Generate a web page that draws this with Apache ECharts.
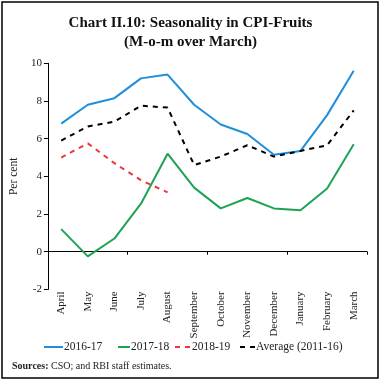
<!DOCTYPE html>
<html><head><meta charset="utf-8">
<script src="https://cdn.jsdelivr.net/npm/echarts@6/dist/echarts.min.js"></script>
<style>html,body{margin:0;padding:0;background:#fff}#c{width:381px;height:383px}</style>
</head><body><div id="c"></div><script>
const months = ['April','May','June','July','August','September','October','November','December','January','February','March'];
const s2016 = [6.8,7.8,8.15,9.2,9.4,7.8,6.75,6.25,5.15,5.35,7.25,9.6];
const s2017 = [1.2,-0.25,0.7,2.55,5.2,3.4,2.3,2.85,2.3,2.2,3.35,5.7];
const s2018 = [5.0,5.75,4.7,3.8,3.15,null,null,null,null,null,null,null];
const sAvg = [5.9,6.65,6.9,7.75,7.65,4.6,5.05,5.65,5.05,5.35,5.65,7.5];
const seriesNames = ['2016-17','2017-18','2018-19','Average (2011-16)'];
const yMin = -2, yMax = 10, yStep = 2;
const FONT = 'Liberation Serif';
const legendPos = [{left: 43, w: 19}, {left: 117, w: 12}, {left: 174, w: 16}, {left: 239, w: 15}];
const legendText = {fontFamily: FONT, fontSize: 11.5, color: '#222', padding: [0,0,0,-4]};
const chart = echarts.init(document.getElementById('c'));
chart.setOption({
  animation: false,
  textStyle: {fontFamily: FONT},
  title: [{
    text: 'Chart II.10: Seasonality in CPI-Fruits\n(M-o-m over March)',
    left: 'center', top: 9,
    textStyle: {fontFamily: FONT, fontSize: 15, fontWeight: 'bold', color: '#111', lineHeight: 19}
  }, {
    text: '{b|Sources:} CSO; and RBI staff estimates.',
    left: 7, top: 356,
    textStyle: {fontFamily: FONT, fontSize: 10, fontWeight: 'normal', color: '#222',
      rich: {b: {fontFamily: FONT, fontSize: 10, fontWeight: 'bold', color: '#222'}}}
  }],
  graphic: [{type: 'rect', shape: {x: 2, y: 2, width: 376, height: 376}, style: {fill: 'none', stroke: '#000', lineWidth: 1.5}, silent: true}],
  legend: seriesNames.map((n, i) => ({
    data: [n], left: legendPos[i].left, top: 341, padding: 0,
    itemWidth: legendPos[i].w, itemHeight: 10,
    itemStyle: {opacity: 0},
    textStyle: legendText
  })),
  grid: {left: 45, right: 14, top: 63.3, bottom: 93.6, containLabel: false},
  xAxis: [{
    type: 'category', data: months, boundaryGap: true,
    axisLine: {onZero: true, lineStyle: {color: '#000', width: 1}},
    axisTick: {show: true, length: 3, inside: false, lineStyle: {color: '#000'}},
    axisLabel: {show: false}
  }, {
    type: 'category', data: months, position: 'bottom', boundaryGap: true,
    axisLine: {show: false, onZero: false}, axisTick: {show: false},
    axisLabel: {rotate: 90, margin: 2, fontFamily: FONT, fontSize: 11, color: '#222', interval: 0}
  }],
  yAxis: {
    type: 'value', min: yMin, max: yMax, interval: yStep,
    name: 'Per cent', nameLocation: 'middle', nameGap: 19,
    nameTextStyle: {fontFamily: FONT, fontSize: 11.5, color: '#222'},
    axisLine: {show: true, lineStyle: {color: '#000', width: 1}},
    axisTick: {show: true, length: 4, lineStyle: {color: '#000'}},
    axisLabel: {fontFamily: FONT, fontSize: 11, color: '#222', margin: 6},
    splitLine: {show: false}
  },
  series: [
    {name: seriesNames[0], type: 'line', data: s2016, symbol: 'none', lineStyle: {color: '#1f8fdb', width: 2}, itemStyle: {color: '#1f8fdb'}},
    {name: seriesNames[1], type: 'line', data: s2017, symbol: 'none', lineStyle: {color: '#1ea253', width: 2}, itemStyle: {color: '#1ea253'}},
    {name: seriesNames[2], type: 'line', data: s2018, symbol: 'none', lineStyle: {color: '#f0323c', width: 2, type: [5,5]}, itemStyle: {color: '#f0323c'}},
    {name: seriesNames[3], type: 'line', data: sAvg, symbol: 'none', lineStyle: {color: '#000', width: 2, type: [5,5]}, itemStyle: {color: '#000'}}
  ]
});
</script></body></html>
